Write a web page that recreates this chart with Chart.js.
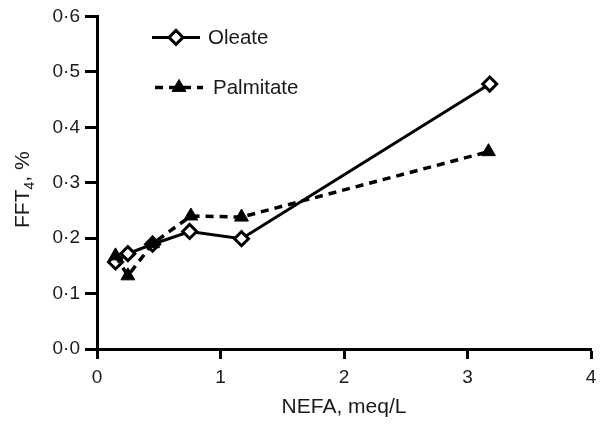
<!DOCTYPE html>
<html>
<head>
<meta charset="utf-8">
<title>FFT4 vs NEFA</title>
<script src="https://cdn.jsdelivr.net/npm/chart.js@4.4.1/dist/chart.umd.min.js"></script>
<style>
  html, body { margin: 0; padding: 0; background: #fff; }
  #wrap { position: relative; width: 607px; height: 427px; }
</style>
</head>
<body>
<div id="wrap"><canvas id="chart"></canvas></div>
<script>
// values
const oleateX = [0.15, 0.25, 0.45, 0.75, 1.17, 3.18];
const oleateY = [0.157, 0.172, 0.189, 0.212, 0.199, 0.478];
const palmitateX = [0.15, 0.25, 0.45, 0.76, 1.17, 3.17];
const palmitateY = [0.168, 0.132, 0.190, 0.240, 0.238, 0.356];

const xTickLabels = ["0", "1", "2", "3", "4"];
const yTickLabels = ["0·0", "0·1", "0·2", "0·3", "0·4", "0·5", "0·6"];

const FONT = "'Liberation Sans', Arial, Helvetica, sans-serif";
const INK = "#1a1a1a";

function toPoints(xs, ys) {
  return xs.map((x, i) => ({ x, y: ys[i] }));
}

const oleateStyle = {
  borderColor: "#000", borderWidth: 3, borderDash: [],
  pointStyle: "rectRot", pointRadius: 7, pointBorderWidth: 3,
  pointBackgroundColor: "#fff", pointBorderColor: "#000"
};
const palmitateStyle = {
  borderColor: "#000", borderWidth: 3.5, borderDash: [8, 6],
  pointStyle: "triangle", pointRadius: 8, pointBorderWidth: 1,
  pointBackgroundColor: "#000", pointBorderColor: "#000"
};

// y title with a subscript, and a legend placed inside the plot
const decorPlugin = {
  id: "decor",
  afterDraw(chart) {
    const { ctx, chartArea } = chart;
    ctx.save();
    ctx.fillStyle = INK;
    ctx.textBaseline = "alphabetic";

    // y axis title "FFT4, %"
    const cy = (chartArea.top + chartArea.bottom) / 2 + 7;
    ctx.translate(29, cy);
    ctx.rotate(-Math.PI / 2);
    ctx.font = `21px ${FONT}`;
    const w1 = ctx.measureText("FFT").width;
    ctx.font = `14px ${FONT}`;
    const w2 = ctx.measureText("4").width;
    ctx.font = `21px ${FONT}`;
    const w3 = ctx.measureText(", %").width;
    let x = -(w1 + w2 + w3) / 2;
    ctx.fillText("FFT", x, 0);
    ctx.font = `14px ${FONT}`;
    ctx.fillText("4", x + w1, 5);
    ctx.font = `21px ${FONT}`;
    ctx.fillText(", %", x + w1 + w2, 0);
    ctx.restore();

    // legend
    const items = [
      { label: "Oleate", style: oleateStyle, y: chartArea.top + 21, x: chartArea.left + 55, gap: 56 },
      { label: "Palmitate", style: palmitateStyle, y: chartArea.top + 71, x: chartArea.left + 58, gap: 58 }
    ];
    items.forEach(it => {
      ctx.save();
      ctx.strokeStyle = it.style.borderColor;
      ctx.lineWidth = it.style.borderWidth;
      ctx.setLineDash(it.style.borderDash);
      ctx.beginPath();
      ctx.moveTo(it.x, it.y);
      ctx.lineTo(it.x + 48, it.y);
      ctx.stroke();
      ctx.setLineDash([]);
      ctx.fillStyle = it.style.pointBackgroundColor;
      ctx.strokeStyle = it.style.pointBorderColor;
      ctx.lineWidth = it.style.pointBorderWidth;
      Chart.helpers.drawPoint(ctx, {
        pointStyle: it.style.pointStyle,
        radius: it.style.pointRadius,
        rotation: 0,
        borderWidth: it.style.pointBorderWidth
      }, it.x + 24, it.y);
      ctx.fillStyle = INK;
      ctx.font = `20.5px ${FONT}`;
      ctx.textBaseline = "middle";
      ctx.fillText(it.label, it.x + it.gap, it.y + 1);
      ctx.restore();
    });
  }
};

new Chart(document.getElementById("chart"), {
  type: "line",
  data: {
    datasets: [
      { label: "Palmitate", data: toPoints(palmitateX, palmitateY), fill: false, tension: 0, ...palmitateStyle },
      { label: "Oleate", data: toPoints(oleateX, oleateY), fill: false, tension: 0, ...oleateStyle }
    ]
  },
  options: {
    responsive: true,
    maintainAspectRatio: false,
    animation: false,
    layout: { padding: { top: 16, right: 16, left: 0, bottom: 0 } },
    plugins: { legend: { display: false }, tooltip: { enabled: false } },
    scales: {
      x: {
        type: "linear", min: 0, max: 4,
        afterBuildTicks: (s) => { s.ticks = xTickLabels.map((_, i) => ({ value: i })); },
        afterFit: (s) => { s.height = 78; },
        ticks: {
          callback: (v, i) => xTickLabels[i],
          color: INK, font: { family: FONT, size: 19 }, padding: 7, maxRotation: 0
        },
        grid: { drawOnChartArea: false, drawTicks: true, tickLength: 10, tickWidth: 3, tickColor: "#000" },
        border: { display: true, color: "#000", width: 3 },
        title: {
          display: true, text: "NEFA, meq/L", color: INK,
          font: { family: FONT, size: 21 }, padding: { top: 4, bottom: 7 }
        }
      },
      y: {
        type: "linear", min: 0, max: 0.6,
        afterBuildTicks: (s) => { s.ticks = yTickLabels.map((_, i) => ({ value: i / 10 })); },
        afterFit: (s) => { s.width = 97; },
        ticks: {
          callback: (v, i) => yTickLabels[i],
          color: INK, font: { family: FONT, size: 19 }, padding: 5
        },
        grid: { drawOnChartArea: false, drawTicks: true, tickLength: 12, tickWidth: 3, tickColor: "#000" },
        border: { display: true, color: "#000", width: 3 }
      }
    }
  },
  plugins: [decorPlugin]
});
</script>
</body>
</html>
